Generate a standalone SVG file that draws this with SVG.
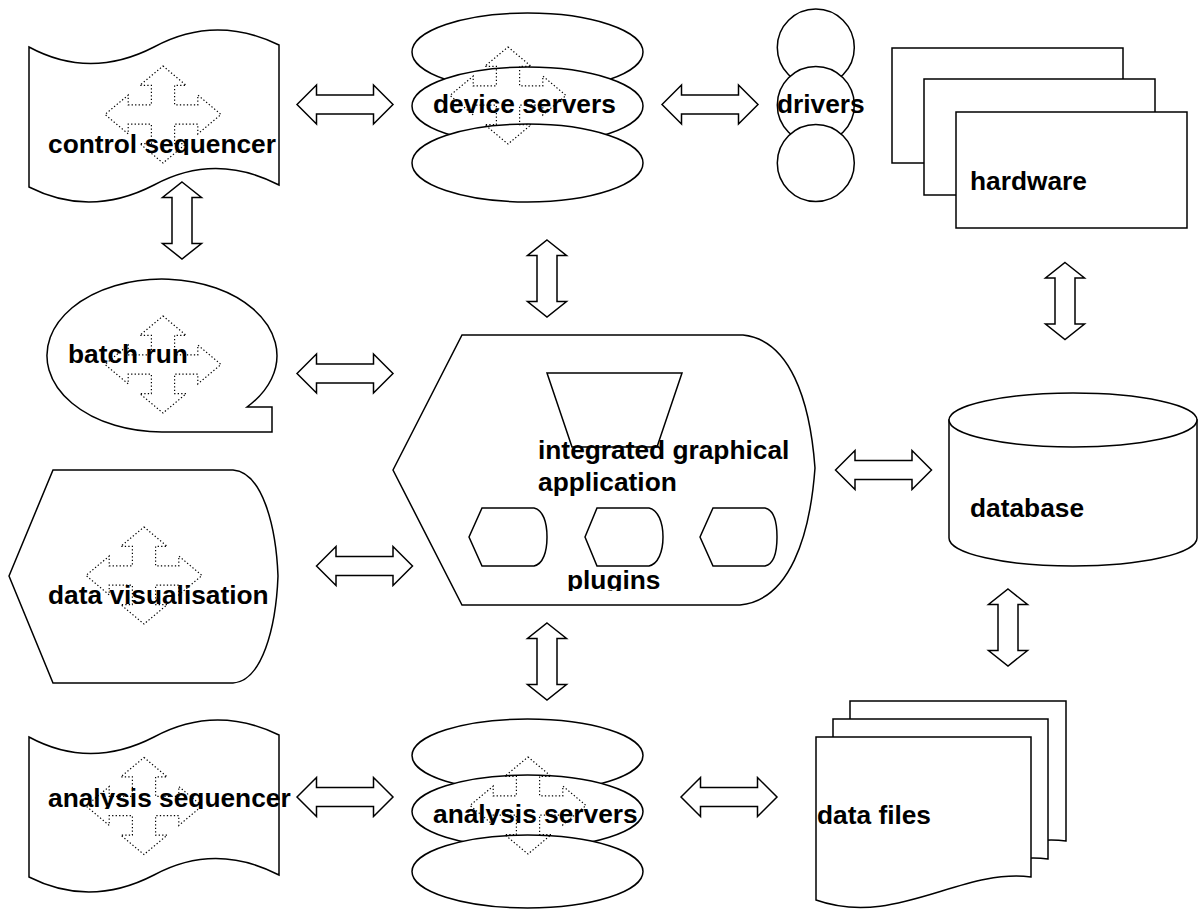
<svg xmlns="http://www.w3.org/2000/svg" width="1198" height="909" viewBox="0 0 1198 909">
<style>
.s{fill:#fff;stroke:#000;stroke-width:1.5;stroke-linejoin:miter}
.o{fill:none;stroke:#000;stroke-width:1.5}
.d{fill:none;stroke:#000;stroke-width:1.2;stroke-dasharray:1.3 2.2}
.a{fill:#fff;stroke:#000;stroke-width:1.5;stroke-linejoin:miter}
.t{font-family:"Liberation Sans",Arial,sans-serif;font-weight:bold;font-size:26.3px;fill:#000}
</style>
<defs>
<polygon id="quad" points="0,-48.5 23.2,-29.1 11.6,-29.1 11.6,-9.7 34.8,-9.7 34.8,-19.4 58,0 34.8,19.4 34.8,9.7 11.6,9.7 11.6,29.1 23.2,29.1 0,48.5 -23.2,29.1 -11.6,29.1 -11.6,9.7 -34.8,9.7 -34.8,19.4 -58,0 -34.8,-19.4 -34.8,-9.7 -11.6,-9.7 -11.6,-29.1 -23.2,-29.1"/>
<polygon id="ha" points="-48,0 -28.5,-19.5 -28.5,-9.5 28.5,-9.5 28.5,-19.5 48,0 28.5,19.5 28.5,9.5 -28.5,9.5 -28.5,19.5"/>
<polygon id="va" points="0,-38.5 19.5,-23 10,-23 10,23 19.5,23 0,38.5 -19.5,23 -10,23 -10,-23 -19.5,-23"/>
<clipPath id="c1"><rect x="0" y="0" width="1198" height="155"/></clipPath>
<clipPath id="c2"><rect x="0" y="700" width="1198" height="109"/></clipPath>
<clipPath id="c3"><rect x="0" y="700" width="1198" height="125"/></clipPath>
<clipPath id="c4"><rect x="0" y="500" width="1198" height="91"/></clipPath>
</defs>

<g id="connectors">
<use href="#ha" class="a" x="345" y="104.5"/>
<use href="#ha" class="a" x="710" y="104.5"/>
<use href="#ha" class="a" x="345" y="373.5"/>
<use href="#ha" class="a" x="883.5" y="470"/>
<use href="#ha" class="a" x="364.5" y="566"/>
<use href="#ha" class="a" x="345" y="797"/>
<use href="#ha" class="a" x="729" y="797"/>
<use href="#va" class="a" x="182" y="220.5"/>
<use href="#va" class="a" x="547" y="278.5"/>
<use href="#va" class="a" x="1065" y="301"/>
<use href="#va" class="a" x="1008" y="627.5"/>
<use href="#va" class="a" x="547" y="661.5"/>
</g>

<g id="control-sequencer">
<path class="s" d="M29,47 Q90,80 154,47 Q215,14 279,45 L279,185 Q215,152 154,185 Q90,218 29,187 Z"/>
<use href="#quad" class="d" x="163" y="114.5"/>
<text class="t" x="48" y="153" clip-path="url(#c1)">control sequencer</text>
</g>

<g id="device-servers">
<ellipse class="s" cx="527.5" cy="52" rx="115.5" ry="39"/>
<ellipse class="s" cx="527.5" cy="106" rx="115.5" ry="39"/>
<ellipse class="s" cx="527.5" cy="163" rx="115.5" ry="39"/>
<use href="#quad" class="d" x="508" y="95.5"/>
<text class="t" x="433" y="113">device servers</text>
</g>

<g id="drivers">
<circle class="s" cx="815.8" cy="47.5" r="38.5"/>
<circle class="s" cx="815.8" cy="105" r="38.5"/>
<circle class="s" cx="815.8" cy="163" r="38.5"/>
<text class="t" x="777" y="113">drivers</text>
</g>

<g id="hardware">
<rect class="s" x="892" y="48" width="231" height="115"/>
<rect class="s" x="924" y="79" width="231" height="116"/>
<rect class="s" x="956" y="112" width="231" height="116"/>
<text class="t" x="970" y="190">hardware</text>
</g>

<g id="batch-run">
<path class="s" d="M163,432 L272,432 L272,407 L247,407 A115,76.5 0 1 0 163,432 Z"/>
<use href="#quad" class="d" x="163" y="364.5"/>
<text class="t" x="68" y="363">batch run</text>
</g>

<g id="integrated-app">
<path class="s" d="M393,470 L462,335 L743,335 C790,340 810,400 815,468 C810,536 790,600 740,605 L462,605 Z"/>
<polygon class="o" points="547,373 682,373 657,447 572,447"/>
<path class="s" d="M469,537 L482,508 L534,508 C543,510 547,522 547,537 C547,552 543,564 534,566 L482,566 Z"/>
<path class="s" d="M585,537 L597,508 L649,508 C658,510 663,522 663,537 C663,552 658,564 649,566 L597,566 Z"/>
<path class="s" d="M700,537 L713,508 L765,508 C774,510 777,522 777,537 C777,552 774,564 765,566 L713,566 Z"/>
<text class="t" x="538" y="459">integrated graphical</text>
<text class="t" x="538" y="491">application</text>
<text class="t" x="567" y="589" clip-path="url(#c4)">plugins</text>
</g>

<g id="data-visualisation">
<path class="s" d="M9,576 L53,470 L233,470 C262,472 276,525 278,576 C276,628 262,681 233,683 L53,683 Z"/>
<use href="#quad" class="d" x="144" y="575.5"/>
<text class="t" x="48" y="604">data visualisation</text>
</g>

<g id="database">
<path class="s" d="M949,420 L949,538 A124,28 0 0 0 1197,538 L1197,420 Z"/>
<ellipse class="s" cx="1073" cy="420" rx="124" ry="27"/>
<text class="t" x="970" y="517">database</text>
</g>

<g id="analysis-sequencer">
<path class="s" d="M29,737 Q90,770 154,737 Q215,704 279,735 L279,875 Q215,842 154,875 Q90,908 29,877 Z"/>
<use href="#quad" class="d" x="144" y="806"/>
<text class="t" x="48" y="807" clip-path="url(#c2)">analysis sequencer</text>
</g>

<g id="analysis-servers">
<ellipse class="s" cx="527.5" cy="755.5" rx="115.5" ry="36.5"/>
<ellipse class="s" cx="527.5" cy="811.5" rx="115.5" ry="36.5"/>
<ellipse class="s" cx="527.5" cy="871.5" rx="115.5" ry="36.5"/>
<use href="#quad" class="d" x="528" y="805.5"/>
<text class="t" x="433" y="823" clip-path="url(#c3)">analysis servers</text>
</g>

<g id="data-files">
<path class="s" d="M850,701 H1066 V841 C995,832 930,892 850,864 Z"/>
<path class="s" d="M833,719 H1048 V859 C977,850 912,910 833,882 Z"/>
<path class="s" d="M816,737 H1031 V877 C960,868 895,928 816,900 Z"/>
<text class="t" x="817" y="824">data files</text>
</g>
</svg>
